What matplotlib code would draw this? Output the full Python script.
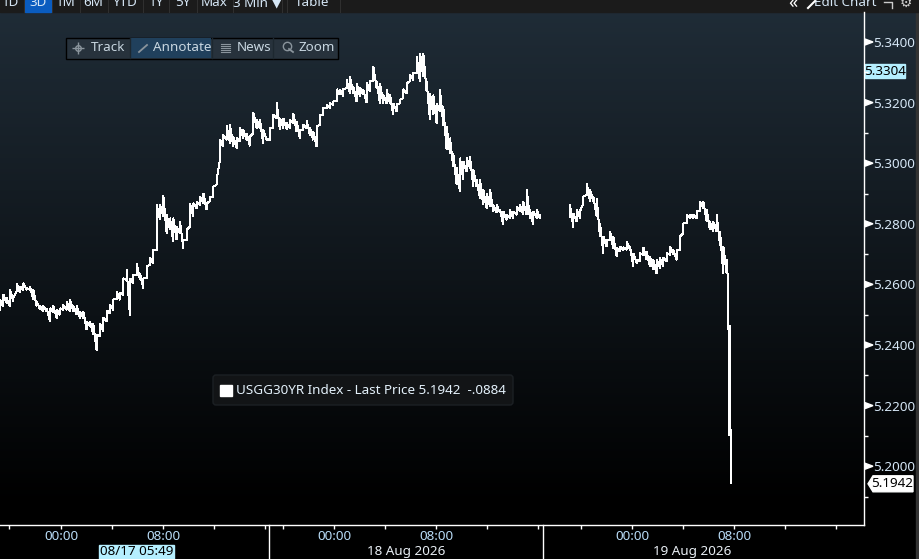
#!/usr/bin/env python3
# -*- coding: utf-8 -*-
import numpy as np
import matplotlib
matplotlib.use("Agg")
import matplotlib.pyplot as plt
from matplotlib.patches import Rectangle, FancyBboxPatch, Polygon

# 30Y yield, low / high of each bar
low_a = [5.2516,5.2527,5.2538,5.2527,5.2544,5.2577,5.2573,5.2582,5.2582,5.2582,
         5.2551,5.2529,5.2518,5.2510,5.2510,5.2478,5.2510,5.2489,5.2500,5.2516,
         5.2516,5.2510,5.2510,5.2500,5.2489,5.2489,5.2450,5.2461,5.2434,5.2382,
         5.2428,5.2445,5.2478,5.2505,5.2516,5.2551,5.2549,5.2565,5.2615,5.2496,
         5.2604,5.2631,5.2615,5.2588,5.2620,5.2665,5.2670,5.2714,5.2813,5.2824,
         5.2769,5.2780,5.2741,5.2747,5.2769,5.2720,5.2747,5.2791,5.2824,5.2851,
         5.2862,5.2868,5.2846,5.2874,5.2890,5.2929,
         5.3013,5.3055,5.3077,5.3066,5.3055,5.3050,5.3072,5.3083,5.3077,5.3057,
         5.3099,5.3116,5.3116,5.3064,5.3077,5.3077,5.3116,5.3148,5.3110,5.3116,
         5.3112,5.3116,5.3132,5.3104,5.3081,5.3110,5.3116,5.3093,5.3077,5.3055,
         5.3127,5.3160,5.3182,5.3182,5.3193,5.3204,5.3226,5.3222,5.3248,5.3231,
         5.3231,5.3203,5.3220,5.3226,5.3200,5.3237,5.3270,5.3248,5.3198,5.3198,
         5.3198,5.3198,5.3160,5.3171,5.3198,5.3215,5.3231,5.3270,5.3275,5.3297,
         5.3270,5.3286,5.3237,5.3143,5.3160,5.3132,5.3170,5.3126,5.3044,
         5.3033,5.2989,5.2929,5.2907,5.2945,5.2972,5.2984,5.2923,5.2923,5.2885,
         5.2863,5.2852,5.2857,5.2841,5.2837,5.2837,5.2797,5.2813,5.2819,5.2819,
         5.2830,5.2841,5.2830,5.2830,5.2819,5.2797,5.2819,5.2819]
high_a = [5.2549,5.2566,5.2555,5.2582,5.2555,5.2604,5.2593,5.2604,5.2588,5.2593,
          5.2582,5.2544,5.2529,5.2529,5.2521,5.2521,5.2529,5.2516,5.2521,5.2532,
          5.2544,5.2551,5.2529,5.2529,5.2510,5.2510,5.2478,5.2478,5.2470,5.2434,
          5.2470,5.2489,5.2514,5.2532,5.2551,5.2577,5.2573,5.2620,5.2648,5.2620,
          5.2631,5.2670,5.2637,5.2620,5.2659,5.2687,5.2714,5.2863,5.2863,5.2892,
          5.2830,5.2819,5.2819,5.2791,5.2808,5.2747,5.2780,5.2868,5.2868,5.2874,
          5.2890,5.2901,5.2868,5.2890,5.2923,5.2945,
          5.3077,5.3093,5.3123,5.3126,5.3088,5.3082,5.3116,5.3110,5.3099,5.3088,
          5.3167,5.3143,5.3143,5.3110,5.3079,5.3116,5.3160,5.3201,5.3148,5.3148,
          5.3132,5.3143,5.3165,5.3137,5.3110,5.3126,5.3140,5.3116,5.3104,5.3121,
          5.3160,5.3182,5.3193,5.3198,5.3204,5.3244,5.3242,5.3244,5.3275,5.3286,
          5.3253,5.3264,5.3248,5.3242,5.3266,5.3270,5.3319,5.3270,5.3264,5.3226,
          5.3242,5.3226,5.3198,5.3193,5.3209,5.3244,5.3264,5.3292,5.3297,5.3352,
          5.3363,5.3363,5.3270,5.3231,5.3225,5.3198,5.3242,5.3187,5.3121,
          5.3083,5.3033,5.2984,5.3017,5.3006,5.3017,5.3022,5.2978,5.2945,5.2945,
          5.2912,5.2901,5.2914,5.2863,5.2863,5.2848,5.2841,5.2830,5.2846,5.2841,
          5.2857,5.2863,5.2874,5.2914,5.2846,5.2841,5.2848,5.2830]
low_b = [5.2824,5.2789,5.2807,5.2819,5.2868,5.2896,5.2874,5.2874,5.2824,5.2758,
         5.2703,5.2725,5.2747,5.2720,5.2692,5.2709,5.2712,5.2714,5.2714,5.2659,
         5.2670,5.2676,5.2698,5.2681,5.2659,5.2648,5.2635,5.2654,5.2659,5.2676,
         5.2698,5.2698,5.2681,5.2714,5.2769,5.2802,5.2819,5.2819,5.2819,5.2841,
         5.2852,5.2807,5.2780,5.2775,5.2775,5.2730,5.2637,5.2637]
high_b = [5.2862,5.2835,5.2846,5.2841,5.2890,5.2934,5.2912,5.2890,5.2884,5.2802,
          5.2758,5.2747,5.2775,5.2758,5.2720,5.2725,5.2723,5.2742,5.2725,5.2703,
          5.2681,5.2703,5.2723,5.2708,5.2692,5.2681,5.2681,5.2687,5.2687,5.2703,
          5.2725,5.2714,5.2714,5.2758,5.2802,5.2830,5.2830,5.2830,5.2841,5.2874,
          5.2874,5.2846,5.2807,5.2807,5.2830,5.2775,5.2725,5.2681]
low_drop = [5.2466, 5.2103, 5.1942]
high_drop = [5.2637, 5.2466, 5.2103]

y_ticks = [5.20, 5.22, 5.24, 5.26, 5.28, 5.30, 5.32, 5.34]
y_minor = [5.19, 5.21, 5.23, 5.25, 5.27, 5.29, 5.31, 5.33]
x_major = [4.8, 12.8, 26.2, 34.2, 49.6, 57.6]
x_labels = ["00:00", "08:00", "00:00", "08:00", "00:00", "08:00"]
x_minor = [0.7, 8.8, 16.8, 20.8, 22.2, 30.2, 38.2, 42.2, 45.6, 53.6, 61.6, 65.6]
day_breaks = [21.1, 42.6]

last_price = 5.1942
cross_price = 5.3304

H_PER_PX = 1 / 12.75  # 4h = 51px on the axis
BAR = 3.333 * H_PER_PX
W, H = 919, 559

TXT = "#d5e6f5"
FS = 9.7
plt.rcParams["font.family"] = ["Noto Sans", "DejaVu Sans"]

fig = plt.figure(figsize=(W / 100, H / 100), dpi=100, facecolor="black")

# pixel layer for background and the terminal chrome
bg = fig.add_axes([0, 0, 1, 1], zorder=0)
bg.set_xlim(0, W)
bg.set_ylim(H, 0)
bg.axis("off")
grad = np.zeros((H, 1, 3))
top = np.array([32, 45, 56]) / 255
for r in range(H):
    grad[r, 0] = top * max(0, 1 - r / 505)
bg.imshow(grad, extent=[0, W, H, 0], aspect="auto", zorder=0)
bg.set_xlim(0, W)
bg.set_ylim(H, 0)
bg.add_patch(Rectangle((916, 0), 3, H, color="#333333", zorder=1))

# top button strip, text cut by the edge of the picture
bg.add_patch(Rectangle((0, 0), W, 12, color="#1b1b1b", zorder=1))
bg.add_patch(Rectangle((25, 0), 26, 12, color="#0a5cc0", zorder=2))
buttons = ["1D", "3D", "1M", "6M", "YTD", "1Y", "5Y", "Max", "3 Min ▼", "Table"]
button_x = [10, 38, 66, 93, 125, 156, 183, 214, 257, 312]
for lab, bx in zip(buttons, button_x):
    bg.text(bx, 3, lab, color=TXT, fontsize=FS, ha="center", va="center", zorder=3)
for sx in [24, 52, 80, 108, 143, 169, 197, 233, 282, 287, 340]:
    bg.plot([sx, sx], [0, 12], color="#303030", lw=0.7, zorder=2)
bg.text(793, 3, "«", color="white", fontsize=13, ha="center", va="center", zorder=3)
bg.text(845, 3, "Edit Chart", color=TXT, fontsize=FS, ha="center", va="center", zorder=3)
bg.text(906, 3, "⚙", color="#cccccc", fontsize=10, ha="center", va="center", zorder=3)
bg.plot([808, 815], [8, 1], color="white", lw=1.5, zorder=3)
bg.plot([884, 892, 892], [2, 2, 8], color="#cccccc", lw=1, zorder=3)

# Track / Annotate / News / Zoom panel
bg.add_patch(Rectangle((65.5, 37.5), 272, 21, fc="#27323c", ec="black", lw=1, zorder=2))
bg.add_patch(Rectangle((131, 38), 80, 20, fc="#20405c", zorder=3))
for sx in [130, 212, 273]:
    bg.plot([sx, sx], [38, 58], color="#1d2830", lw=1, zorder=3)
for lab, tx in [("Track", 108), ("Annotate", 182), ("News", 254), ("Zoom", 317)]:
    bg.text(tx, 47.5, lab, color="#c8d6e0", fontsize=FS, ha="center", va="center", zorder=4)
bg.plot(78, 48, marker="+", ms=8, color="#8a949c", zorder=4)
bg.plot(78, 48, marker="o", ms=4, mfc="none", mec="#8a949c", zorder=4)
bg.plot([139, 147], [52, 45], color="#8a949c", lw=1.3, zorder=4)
for ly in [44, 46, 48, 50, 52]:
    bg.plot([221, 230], [ly, ly], color="#8a949c", lw=0.8, zorder=4)
bg.plot(287, 46, marker="o", ms=6, mfc="none", mec="#8a949c", zorder=4)
bg.plot([289, 293], [49, 52], color="#8a949c", lw=1.3, zorder=4)

# legend
bg.add_patch(FancyBboxPatch((213, 375), 300, 30, boxstyle="round,pad=0,rounding_size=3",
                            fc="#121416", ec="#1c2024", lw=1, zorder=2))
bg.add_patch(Rectangle((220, 385), 12, 11, color="white", zorder=3))
bg.text(236, 390.5, "USGG30YR Index - Last Price 5.1942  -.0884", color="#e4f1fb",
        fontsize=FS, ha="left", va="center", zorder=3)

# date row under the axis
bg.text(406, 551, "18 Aug 2026", color="#e8eef4", fontsize=FS, ha="center", va="center", zorder=3)
bg.text(692, 551, "19 Aug 2026", color="#e8eef4", fontsize=FS, ha="center", va="center", zorder=3)
bg.add_patch(Rectangle((99, 545), 75, 14, color="#b5efff", zorder=3))
bg.text(137, 551.5, "08/17 05:49", color="black", fontsize=FS, ha="center", va="center", zorder=4)

# price chart
ax = fig.add_axes([0, (H - 525) / H, 864 / W, 513 / H], zorder=1)
ax.patch.set_visible(False)
ax.set_xlim(0, 864 * H_PER_PX)
ax.set_ylim(5.1806, 5.3499)


def draw_bars(start, low, high, step=BAR):
    x = start + np.arange(len(low)) * step
    ax.plot(np.repeat(x, 2), np.column_stack([low, high]).ravel(),
            color="white", lw=0.75, solid_joinstyle="miter", antialiased=False)


draw_bars(0, low_a, high_a)
draw_bars(570 * H_PER_PX, low_b, high_b)
draw_bars(728 * H_PER_PX, low_drop, high_drop, step=1.5 * H_PER_PX)

for s in ["left", "top"]:
    ax.spines[s].set_visible(False)
for s in ["right", "bottom"]:
    ax.spines[s].set_color("white")
    ax.spines[s].set_linewidth(1)

ax.yaxis.tick_right()
ax.set_yticks(y_ticks)
ax.set_yticklabels([f"{v:.4f}" for v in y_ticks], color=TXT, fontsize=FS)
ax.set_yticks(y_minor, minor=True)
ax.tick_params(axis="y", which="major", length=0, pad=6.5)
ax.tick_params(axis="y", which="minor", length=3, width=1, color="white")

ax.set_xticks(x_major)
ax.set_xticklabels(x_labels, color="#b9dcf7", fontsize=FS)
ax.set_xticks(x_minor, minor=True)
ax.tick_params(axis="x", which="both", length=3, width=1, color="white", pad=0.5)
for b in day_breaks:
    ax.plot([b, b], [0, -0.0667], color="white", lw=1,
            transform=ax.get_xaxis_transform(), clip_on=False)

# arrow heads on the labelled prices
for v in y_ticks:
    py = H - ax.transData.transform((0, v))[1]
    bg.add_patch(Polygon([[865, py - 3], [873, py], [865, py + 3]], color="white", zorder=3))

# price flags on the right axis
flag_y = H - ax.transData.transform((0, last_price))[1]
bg.add_patch(Polygon([[868, flag_y], [873, flag_y - 8], [913, flag_y - 8],
                      [913, flag_y + 8], [873, flag_y + 8]], color="white", zorder=3))
bg.text(892, flag_y, f"{last_price:.4f}", color="black", fontsize=FS,
        ha="center", va="center", zorder=4)
cross_y = H - ax.transData.transform((0, cross_price))[1]
bg.add_patch(Rectangle((865, cross_y - 7), 40, 14, color="#b5efff", zorder=3))
bg.text(885, cross_y, f"{cross_price:.4f}", color="black", fontsize=FS,
        ha="center", va="center", zorder=4)

fig.savefig("out.png", dpi=100, facecolor="black")
